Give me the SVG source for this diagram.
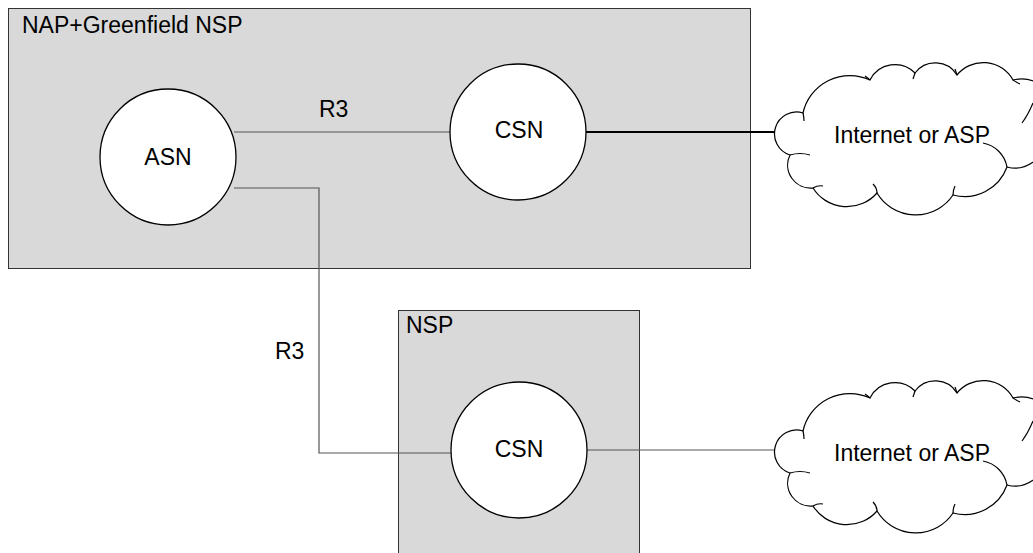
<svg xmlns="http://www.w3.org/2000/svg" width="1033" height="553" viewBox="0 0 1033 553">
<style>
.box{fill:#d9d9d9;stroke:#333;stroke-width:1}
.node{fill:#fff;stroke:#000;stroke-width:1.3}
.cloud{fill:#fff;stroke:#000;stroke-width:1.2}
.inner{fill:none;stroke:#000;stroke-width:1.2}
.lbl{font-family:"Liberation Sans",Arial,sans-serif;font-size:23px;fill:#000}
.mid{text-anchor:middle}
.conn{fill:none;stroke:#555;stroke-width:1.2}
.thick{fill:none;stroke:#000;stroke-width:2}
</style>
<defs>
<g id="cloudshape">
<path class="cloud" d="M803,113 A21,21 0 0 0 790,155 A23,23 0 0 0 813,188 A40,40 0 0 0 877,193 A45,45 0 0 0 953,195 A45,45 0 0 0 1007,167 A30,30 0 0 0 1045,140 A35,35 0 0 0 1013,80 A34,34 0 0 0 957,75 A25.5,25.5 0 0 0 915,73 A28,28 0 0 0 870,80 A48,48 0 0 0 803,113 Z"/>
<path class="inner" d="M790,155 Q800,152 810,155"/>
<path class="inner" d="M813,188 Q818,185 823,186"/>
<path class="inner" d="M877,193 Q877,188 873,184"/>
<path class="inner" d="M953,195 Q953,190 955,186"/>
<path class="inner" d="M1007,167 A30,30 0 0 0 983,143"/>
<path class="inner" d="M1033,103 Q1028,115 1022,123"/>
<path class="inner" d="M1013,80 Q1016,82 1020,84"/>
<path class="inner" d="M957,75 Q956,72 955,69"/>
<path class="inner" d="M915,73 Q914,76 913,79"/>
<path class="inner" d="M870,80 Q868,78 865,76"/>
<path class="inner" d="M803,113 Q804,117 804,121"/>
</g>
</defs>
<rect width="1033" height="553" fill="#fff"/>
<g id="napbox">
<rect class="box" x="8.5" y="8.5" width="742" height="260"/>
<text class="lbl" x="22" y="33">NAP+Greenfield NSP</text>
</g>
<g id="nspbox">
<rect class="box" x="398.5" y="310.5" width="241" height="250"/>
<text class="lbl" x="406" y="333">NSP</text>
</g>
<g id="connectors">
<polyline class="conn" points="234,132 451,132"/>
<polyline class="conn" points="234,188 319,188 319,453 451,453"/>
<polyline class="thick" points="586,132 782,132"/>
<polyline class="conn" points="587,450 785,450"/>
<text class="lbl" x="319" y="117">R3</text>
<text class="lbl" x="275" y="359">R3</text>
</g>
<g id="asn">
<circle class="node" cx="168" cy="157" r="68"/>
<text class="lbl mid" x="168" y="165">ASN</text>
</g>
<g id="csn1">
<circle class="node" cx="518" cy="132" r="68"/>
<text class="lbl mid" x="519" y="138">CSN</text>
</g>
<g id="csn2">
<circle class="node" cx="519" cy="450" r="68"/>
<text class="lbl mid" x="519" y="457">CSN</text>
</g>
<g id="cloud1">
<use href="#cloudshape"/>
<text class="lbl mid" x="912" y="143">Internet or ASP</text>
</g>
<g id="cloud2">
<use href="#cloudshape" transform="translate(0,318)"/>
<text class="lbl mid" x="912" y="461">Internet or ASP</text>
</g>
</svg>
